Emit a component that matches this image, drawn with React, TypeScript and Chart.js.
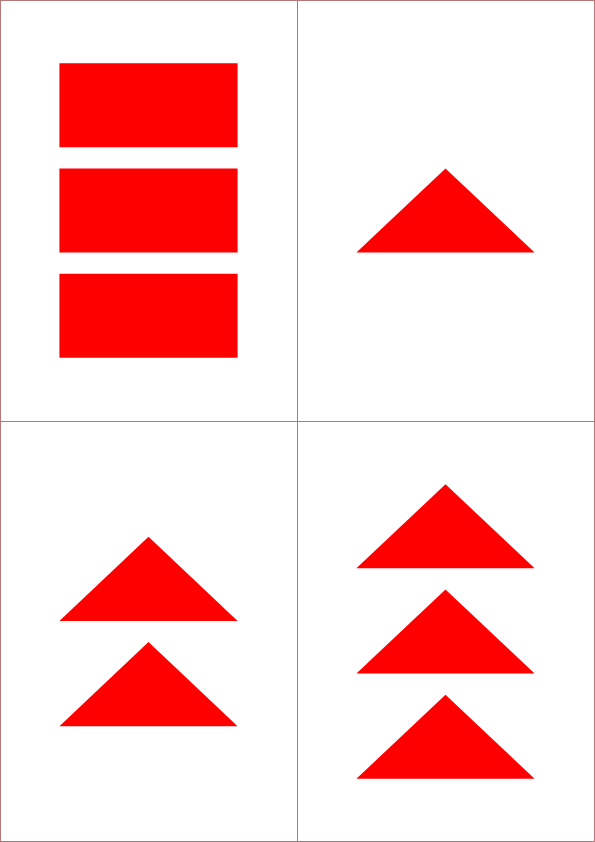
import React, { useEffect, useRef } from "react";
import { Chart, registerables } from "chart.js";

Chart.register(...registerables);

// page is cut in four cards; each holds a column of red shapes
const quadrants = ["rectangles", "one triangle", "two triangles", "three triangles"];
const shapeKinds = ["rect", "triangle", "triangle", "triangle"];
// bottom of every shape, in shape heights (card is 5 high)
const q1Bottoms = [3.25, 2, 0.75];
const q2Bottoms = [2];
const q3Bottoms = [2.625, 1.375];
const q4Bottoms = [3.25, 2, 0.75];
const bottomsByQuadrant = [q1Bottoms, q2Bottoms, q3Bottoms, q4Bottoms];
// triangle outline along x: left foot, apex, right foot
const triangleX = [0, 0.5, 1];
const triangleRise = [0, 1, 0];

const RED = "#ff0000";
const LINE = "#b57777";

function ShapeCard({ kind, bottoms }: { kind: string; bottoms: number[] }) {
  const ref = useRef<HTMLCanvasElement | null>(null);

  useEffect(() => {
    if (!ref.current) return;
    const hidden = { display: false };
    let chart: Chart;
    if (kind === "rect") {
      chart = new Chart(ref.current, {
        type: "bar",
        data: {
          labels: [""],
          datasets: bottoms.map((b) => ({
            data: [[b, b + 1]] as any,
            backgroundColor: RED,
            borderWidth: 0,
            grouped: false,
            categoryPercentage: 0.6,
            barPercentage: 1
          }))
        },
        options: {
          animation: false,
          responsive: true,
          maintainAspectRatio: false,
          events: [],
          layout: { padding: 0 },
          plugins: { legend: hidden, tooltip: { enabled: false } },
          scales: {
            x: { ...hidden },
            y: { ...hidden, min: 0, max: 5 }
          }
        }
      });
    } else {
      chart = new Chart(ref.current, {
        type: "scatter",
        data: {
          datasets: bottoms.map((b) => ({
            data: triangleX.map((x, i) => ({ x, y: b + triangleRise[i] })),
            showLine: true,
            fill: { value: b },
            backgroundColor: RED,
            borderColor: RED,
            borderWidth: 0,
            pointRadius: 0,
            tension: 0
          }))
        },
        options: {
          animation: false,
          responsive: true,
          maintainAspectRatio: false,
          events: [],
          layout: { padding: 0 },
          plugins: { legend: hidden, tooltip: { enabled: false } },
          scales: {
            x: { ...hidden, type: "linear", min: -1 / 3, max: 4 / 3 },
            y: { ...hidden, min: 0, max: 5 }
          }
        }
      });
    }
    return () => chart.destroy();
  }, [kind, bottoms]);

  return <canvas ref={ref} />;
}

export default function App() {
  useEffect(() => {
    document.body.style.margin = "0";
  }, []);

  return (
    <div style={{ position: "relative", width: 595, height: 842, background: "#fff" }}>
      {quadrants.map((name, i) => {
        const left = (i % 2) * 297;
        const top = Math.floor(i / 2) * 421;
        return (
          <div
            key={name}
            title={name}
            style={{
              position: "absolute",
              left,
              top,
              width: 298,
              height: 422 - Math.floor(i / 2),
              boxSizing: "border-box",
              border: `1px solid ${LINE}`
            }}
          >
            <div style={{ position: "absolute", left: -1, top: -1, width: 297, height: 421 }}>
              <ShapeCard kind={shapeKinds[i]} bottoms={bottomsByQuadrant[i]} />
            </div>
          </div>
        );
      })}
    </div>
  );
}
